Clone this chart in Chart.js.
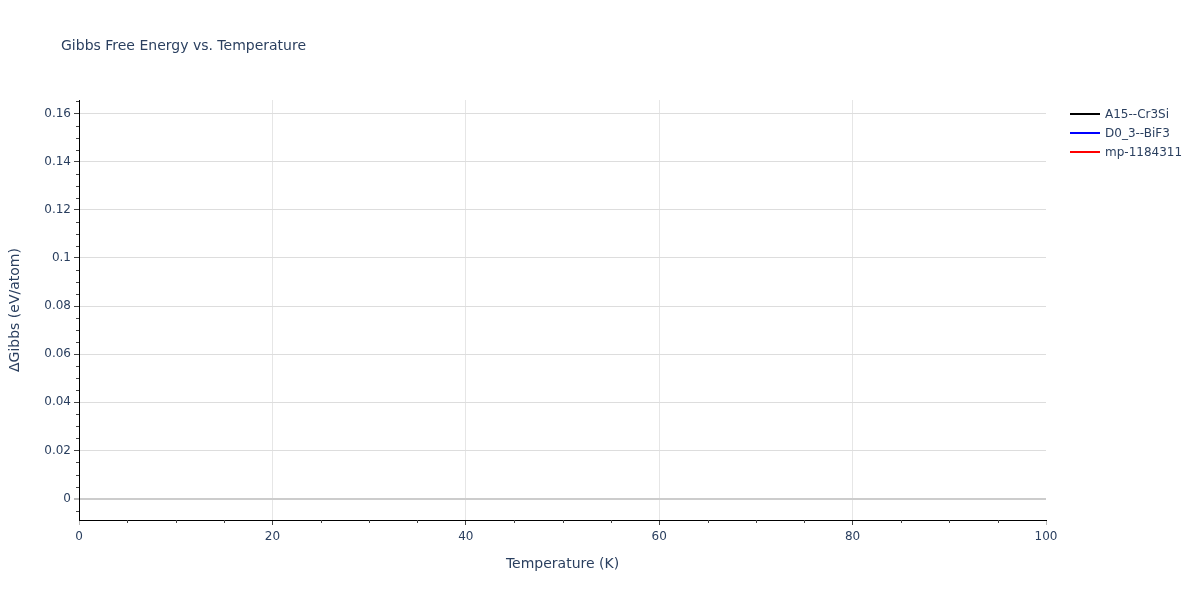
<!DOCTYPE html>
<html>
<head>
<meta charset="utf-8">
<title>Gibbs Free Energy vs. Temperature</title>
<script src="https://cdn.jsdelivr.net/npm/chart.js@4.4.1/dist/chart.umd.min.js"></script>
<style>
    html, body { margin: 0; padding: 0; background: #fff; }
    #wrap { position: relative; width: 1200px; height: 600px; font-family: "DejaVu Sans", Verdana, sans-serif; color: #2a3f5f; }
    #titulo { position: absolute; left: 61px; top: 37px; font-size: 14px; line-height: 16px; white-space: nowrap; }
    #legenda { position: absolute; left: 1070px; top: 104px; font-size: 12px; }
    .item { height: 19px; display: flex; align-items: center; }
    .amostra { width: 30px; height: 2px; margin-right: 5px; }
</style>
</head>
<body>
<div id="wrap">
    <canvas id="grafico" width="1200" height="600"></canvas>
    <div id="titulo">Gibbs Free Energy vs. Temperature</div>
    <div id="legenda"></div>
</div>
<script>
// dados (nenhuma curva aparece dentro da área visível)
const temperaturas = [];
const gibbsA15 = [];
const gibbsD03 = [];
const gibbsMp = [];

const nomesSeries = ["A15--Cr3Si", "D0_3--BiF3", "mp-1184311"];
const coresSeries = ["#000000", "#0000ff", "#ff0000"];

const xTicks = [0, 20, 40, 60, 80, 100];
const xTicksMenores = [5, 10, 15, 25, 30, 35, 45, 50, 55, 65, 70, 75, 85, 90, 95];
const yTicks = [0, 0.02, 0.04, 0.06, 0.08, 0.1, 0.12, 0.14, 0.16];
const yTicksMenores = [-0.005, 0.005, 0.01, 0.015, 0.025, 0.03, 0.035, 0.045, 0.05, 0.055,
    0.065, 0.07, 0.075, 0.085, 0.09, 0.095, 0.105, 0.11, 0.115, 0.125, 0.13, 0.135,
    0.145, 0.15, 0.155, 0.165];

const corTexto = "#2a3f5f";
const fonte = "'DejaVu Sans', Verdana, sans-serif";

function serie(xs, ys) {
    return xs.map((x, i) => ({ x: x, y: ys[i] }));
}

// desenha os ticks menores usando as escalas do próprio Chart.js
const ticksMenores = {
    id: "ticksMenores",
    afterDraw(chart) {
        const ctx = chart.ctx;
        const sx = chart.scales.x;
        const sy = chart.scales.y;
        ctx.save();
        ctx.strokeStyle = "#444";
        ctx.lineWidth = 1;
        ctx.beginPath();
        xTicksMenores.forEach(v => {
            const px = Math.round(sx.getPixelForValue(v)) + 0.5;
            ctx.moveTo(px, sx.top);
            ctx.lineTo(px, sx.top + 3);
        });
        yTicksMenores.forEach(v => {
            const py = Math.round(sy.getPixelForValue(v)) + 0.5;
            ctx.moveTo(sy.right, py);
            ctx.lineTo(sy.right - 3, py);
        });
        ctx.stroke();
        ctx.restore();
    }
};

function criarGrafico() {
    const ctx = document.getElementById("grafico").getContext("2d");
    const dadosY = [gibbsA15, gibbsD03, gibbsMp];

    const grafico = new Chart(ctx, {
        type: "line",
        data: {
            datasets: nomesSeries.map((nome, i) => ({
                label: nome,
                data: serie(temperaturas, dadosY[i]),
                borderColor: coresSeries[i],
                backgroundColor: coresSeries[i],
                borderWidth: 2,
                pointRadius: 0,
                fill: false
            }))
        },
        options: {
            responsive: false,
            animation: false,
            layout: { padding: { top: 100, right: 154, left: 0, bottom: 0 } },
            plugins: {
                legend: { display: false },
                title: { display: false },
                tooltip: { enabled: false }
            },
            scales: {
                x: {
                    type: "linear",
                    min: 0,
                    max: 100,
                    afterBuildTicks: s => { s.ticks = xTicks.map(v => ({ value: v })); },
                    afterFit: s => { s.height = 80; },
                    border: { display: true, color: "#000", width: 1 },
                    grid: {
                        color: c => (c.tick && (c.tick.value === 0 || c.tick.value === 100)) ? "rgba(0,0,0,0)" : "#e6e6e6",
                        tickColor: c => (c.tick && (c.tick.value === 0 || c.tick.value === 100)) ? "#bbbbbb" : "#444",
                        tickLength: 5,
                        lineWidth: 1
                    },
                    ticks: {
                        color: corTexto,
                        font: { family: fonte, size: 12 },
                        padding: 5,
                        maxRotation: 0,
                        callback: v => String(v)
                    },
                    title: {
                        display: true,
                        text: "Temperature (K)",
                        color: corTexto,
                        font: { family: fonte, size: 14 },
                        padding: { bottom: 27 }
                    }
                },
                y: {
                    type: "linear",
                    min: -0.0089,
                    max: 0.1656,
                    afterBuildTicks: s => { s.ticks = yTicks.map(v => ({ value: v })); },
                    afterFit: s => { s.width = 79; },
                    border: { display: true, color: "#000", width: 1 },
                    grid: {
                        color: c => (c.tick && c.tick.value === 0) ? "#cccccc" : "#dddddd",
                        lineWidth: c => (c.tick && c.tick.value === 0) ? 2 : 1,
                        tickColor: c => (c.tick && c.tick.value === 0) ? "#bbbbbb" : "#444",
                        tickLength: 5
                    },
                    ticks: {
                        color: corTexto,
                        font: { family: fonte, size: 12 },
                        padding: 3,
                        callback: v => String(Math.round(v * 100) / 100)
                    },
                    title: {
                        display: true,
                        text: "ΔGibbs (eV/atom)",
                        color: corTexto,
                        font: { family: fonte, size: 14 },
                        padding: { top: 7 }
                    }
                }
            }
        },
        plugins: [ticksMenores]
    });

    return grafico;
}

function criarLegenda(grafico) {
    const caixa = document.getElementById("legenda");
    grafico.data.datasets.forEach(ds => {
        const item = document.createElement("div");
        item.className = "item";
        const amostra = document.createElement("span");
        amostra.className = "amostra";
        amostra.style.background = ds.borderColor;
        const texto = document.createElement("span");
        texto.textContent = ds.label;
        item.appendChild(amostra);
        item.appendChild(texto);
        caixa.appendChild(item);
    });
}

const grafico = criarGrafico();
criarLegenda(grafico);
</script>
</body>
</html>
